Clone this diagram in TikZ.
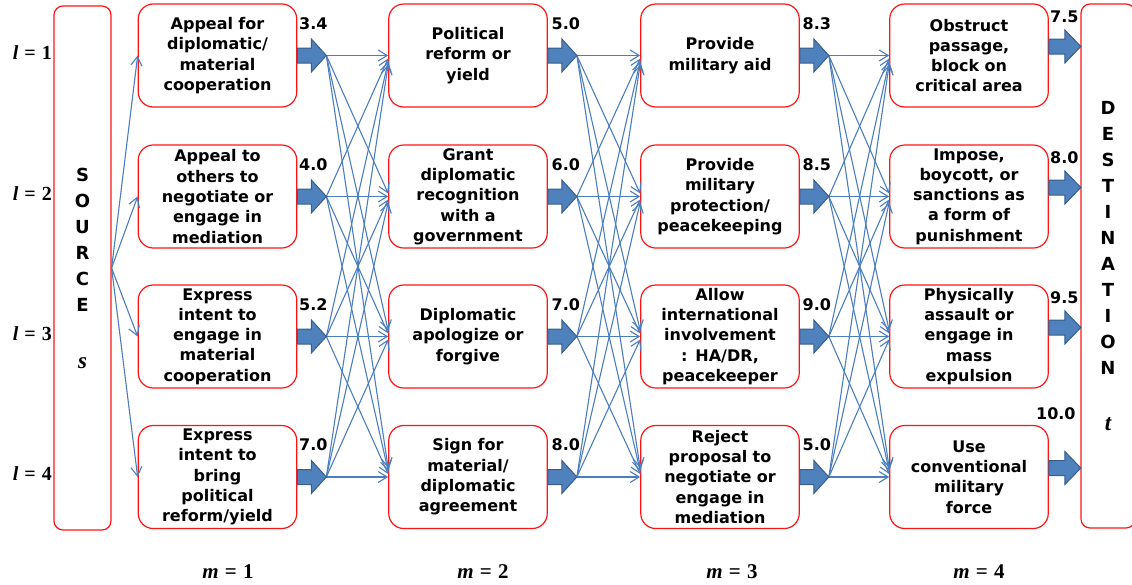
\documentclass[tikz,border=0pt]{standalone}
\usepackage{fontspec}
\usetikzlibrary{arrows.meta,calc}
\newfontfamily\boxfont{DejaVu Sans}
\newfontfamily\symfont{Liberation Serif}
\newcommand\var[1]{{\symfont\bfseries\itshape #1}}
\newcommand\eqidx[2]{\var{#1}\hspace{0.3em}{\symfont\bfseries =\hspace{0.3em}#2}}
\definecolor{boxred}{RGB}{255,20,20}
\definecolor{linkblue}{RGB}{74,126,190}
\definecolor{fatfill}{RGB}{79,129,189}
\definecolor{fatedge}{RGB}{56,93,138}

\begin{document}
\begin{tikzpicture}[x=1pt,y=-1pt,
  stage/.style={draw=boxred, line width=1.2pt, fill=white, rounded corners=15pt,
    minimum width=158.5pt, minimum height=103pt, inner sep=0pt, text width=156pt,
    align=center, font=\boxfont\bfseries\fontsize{16}{20.3}\selectfont},
  terminal/.style={draw=boxred, line width=1.2pt, fill=white, rounded corners=9pt,
    minimum height=524pt, inner sep=0pt, align=center,
    font=\boxfont\bfseries\fontsize{18}{26}\selectfont},
  val/.style={font=\boxfont\bfseries\fontsize{16}{19}\selectfont, inner sep=0pt},
  lvl/.style={font=\fontsize{20}{22}\selectfont, inner sep=0pt},
  idx/.style={font=\fontsize{21}{23}\selectfont, inner sep=0pt},
  link/.style={draw=linkblue, line width=1.1pt,
    -{Straight Barb[length=9pt,width=11pt]}},
  fat/.style={fill=fatfill, draw=fatedge, line width=1pt, line join=miter}]

\useasboundingbox (0,0) rectangle (1132,584);

% source and destination
\node[terminal, minimum width=57pt] (src) at (82.5,268)
  {S\\O\\U\\R\\C\\E\\[31pt]{\fontsize{23}{26}\selectfont\var{s}}};
\node[terminal, minimum width=54pt] (dst) at (1108,266)
  {D\\E\\S\\T\\I\\N\\A\\T\\I\\O\\N\\[30pt]{\fontsize{23}{26}\selectfont\var{t}}};

% stage m = 1
\node[stage] (c1-1) at (217.5,55.5) {Appeal for\\diplomatic/\\material\\cooperation};
\node[stage] (c1-2) at (217.5,196.5) {Appeal to\\others to\\negotiate or\\engage in\\mediation};
\node[stage] (c1-3) at (217.5,336.5) {Express\\intent to\\engage in\\material\\cooperation};
\node[stage] (c1-4) at (217.5,477) {Express\\intent to\\bring\\political\\reform/yield};
% stage m = 2
\node[stage] (c2-1) at (468,55.5) {Political\\reform or\\yield};
\node[stage] (c2-2) at (468,196.5) {Grant\\diplomatic\\recognition\\with a\\government};
\node[stage] (c2-3) at (468,336.5) {Diplomatic\\apologize or\\forgive};
\node[stage] (c2-4) at (468,477) {Sign for\\material/\\diplomatic\\agreement};
% stage m = 3
\node[stage] (c3-1) at (720,55.5) {Provide\\military aid};
\node[stage] (c3-2) at (720,196.5) {Provide\\military\\protection/\\peacekeeping};
\node[stage] (c3-3) at (720,336.5) {Allow\\international\\involvement\\: HA/DR,\\peacekeeper};
\node[stage] (c3-4) at (720,477) {Reject\\proposal to\\negotiate or\\engage in\\mediation};
% stage m = 4
\node[stage] (c4-1) at (969,55.5) {Obstruct\\passage,\\block on\\critical area};
\node[stage] (c4-2) at (969,196.5) {Impose,\\boycott, or\\sanctions as\\a form of\\punishment};
\node[stage] (c4-3) at (969,336.5) {Physically\\assault or\\engage in\\mass\\expulsion};
\node[stage] (c4-4) at (969,477) {Use\\conventional\\military\\force};

% tips of the block arrows
\foreach \m in {1,2,3}
  \foreach \l in {1,...,4}
    \coordinate (t\m-\l) at ($(c\m-\l.east)+(29,0)$);

% source to first stage
\foreach \l in {1,...,4}
  \draw[link] (src.east) -- (c1-\l.west);

% stage to stage, every pair of rows
\foreach \m in {1,2,3}{
  \pgfmathtruncatemacro\n{\m+1}
  \foreach \i in {1,...,4}{
    \foreach \j in {1,...,4}{
      \draw[link] (t\m-\i) -- ($(c\n-\j.west)+(0,{3*(\i-\j)})$);
    }
  }
}

% block arrows leaving stages 1-3
\foreach \m in {1,2,3}
  \foreach \l in {1,...,4}
    \draw[fat] ($(c\m-\l.east)+(0,-7.5)$) -- ++(14,0) -- ++(0,-9) -- ++(15,16.5)
      -- ++(-15,16.5) -- ++(0,-9) -- ++(-14,0) -- cycle;
% block arrows into the destination
\foreach \l in {1,...,4}
  \draw[fat] ($(c4-\l.east)+(0,-16.5)$) -- ++(16,0) -- ++(0,-9) -- ++(16,16.5)
    -- ++(-16,16.5) -- ++(0,-9) -- ++(-16,0) -- cycle;

% values
\foreach \l/\v in {1/3.4,2/4.0,3/5.2,4/7.0}
  \node[val] (v1-\l) at ($(c1-\l.north east)+(16,20)$) {\v};
\foreach \l/\v in {1/5.0,2/6.0,3/7.0,4/8.0}
  \node[val] (v2-\l) at ($(c2-\l.north east)+(18,20)$) {\v};
\foreach \l/\v in {1/8.3,2/8.5,3/9.0,4/5.0}
  \node[val] (v3-\l) at ($(c3-\l.north east)+(17,20)$) {\v};
\foreach \l/\v in {1/7.5,2/8.0,3/9.5}
  \node[val] (v4-\l) at ($(c4-\l.north east)+(15.5,13)$) {\v};
\node[val] (v4-4) at ($(c4-4.north east)+(7,-11)$) {10.0};

% row and stage indices
\node[lvl, anchor=east] (l1) at (52,53) {\eqidx{l}{1}};
\node[lvl, anchor=east] (l2) at (52,194) {\eqidx{l}{2}};
\node[lvl, anchor=east] (l3) at (52,334) {\eqidx{l}{3}};
\node[lvl, anchor=east] (l4) at (52,474) {\eqidx{l}{4}};
\node[idx] (m1) at (228,572) {\eqidx{m}{1}};
\node[idx] (m2) at (483,572) {\eqidx{m}{2}};
\node[idx] (m3) at (732,572) {\eqidx{m}{3}};
\node[idx] (m4) at (979,572) {\eqidx{m}{4}};
\end{tikzpicture}
\end{document}
